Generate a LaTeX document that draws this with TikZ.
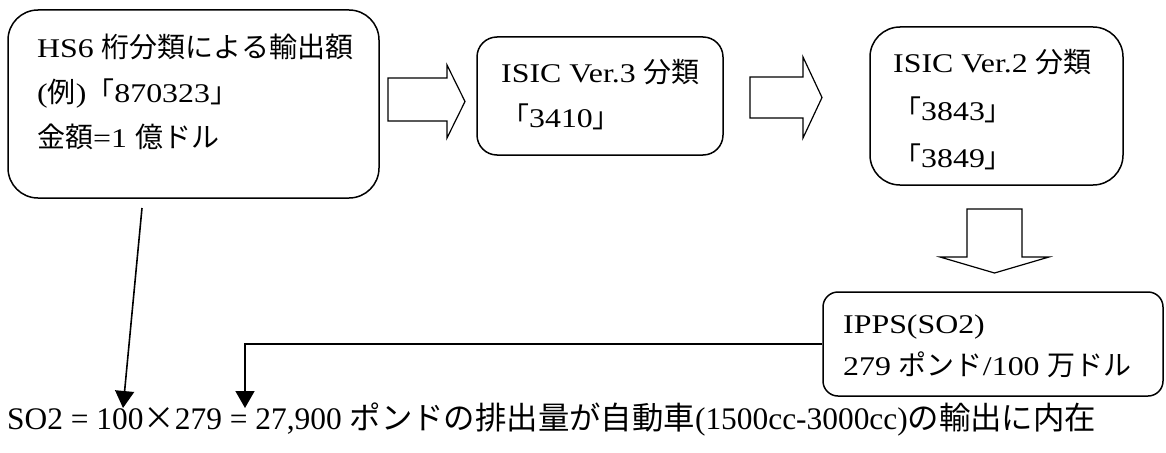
\documentclass[tikz,border=0pt]{standalone}
\usepackage{fontspec}
\setmainfont{Liberation Serif}
\newfontfamily\boxlat[FakeStretch=1.18]{Liberation Serif}
\newfontfamily\cjk{Noto Sans CJK JP}
\usetikzlibrary{arrows.meta}
\newcommand\JP[1]{{\fontsize{28}{28}\selectfont\cjk #1}}
\newcommand\JB[1]{{\cjk #1}}
\tikzset{
  box/.style={draw, line width=1.5pt, rounded corners=#1, inner sep=0pt},
  txt/.style={anchor=base west, inner sep=0pt, font=\fontsize{27}{27}\selectfont\boxlat},
  restxt/.style={anchor=base west, inner sep=0pt, font=\fontsize{31.4}{31}\selectfont},
  blockarrow/.style={draw, line width=1.2pt, line join=miter, fill=white},
  conn/.style={line width=1.6pt, -{Triangle[width=19pt,length=17pt]}}
}
\begin{document}
\begin{tikzpicture}[x=1pt,y=-1pt]
\useasboundingbox (0,0) rectangle (1166,452);
% boxes
\node[box=30pt, minimum width=371pt, minimum height=188pt] (hs) at (193.5,104) {};
\node[box=20pt, minimum width=246pt, minimum height=118pt] (isic3) at (600,96) {};
\node[box=30pt, minimum width=253pt, minimum height=158pt] (isic2) at (996.5,106) {};
\node[box=15pt, minimum width=340pt, minimum height=104pt] (ipps) at (993,344) {};
% box texts
\node[txt] (hs1) at (37,57) {HS6 \JP{桁分類による輸出額}};
\node[txt] (hs2) at (37,102) {(\JP{例})\JP{「}870323\JP{」}};
\node[txt] (hs3) at (37,147) {\JP{金額}=1 \JP{億ドル}};
\node[txt] (i31) at (501,82) {ISIC Ver.3 \JP{分類}};
\node[txt] (i32) at (501,127) {\JP{「}3410\JP{」}};
\node[txt] (i21) at (893,73) {ISIC Ver.2 \JP{分類}};
\node[txt] (i22) at (893,120) {\JP{「}3843\JP{」}};
\node[txt] (i23) at (893,167) {\JP{「}3849\JP{」}};
\node[txt] (ip1) at (843,333) {IPPS(SO2)};
\node[txt] (ip2) at (843,375) {279 \JP{ポンド}/100 \JP{万ドル}};
% result line
\node[restxt] (res) at (7,429) {SO2 = 100\JB{×}279 = 27,900 \JB{ポンドの排出量が自動車}(1500cc-3000cc)\JB{の輸出に内在}};
% block arrows
\draw[blockarrow] (388,78) -- (447,78) -- (447,65) -- (465,101.5) -- (447,138) -- (447,121) -- (388,121) -- cycle;
\draw[blockarrow] (750,77) -- (803,77) -- (803,57) -- (822,97.5) -- (803,138) -- (803,118) -- (750,118) -- cycle;
\draw[blockarrow] (967,209) -- (1022,209) -- (1022,257) -- (1049,257) -- (994.5,273) -- (940,257) -- (967,257) -- cycle;
% connectors
\coordinate (d1) at (142,208);
\coordinate (d2) at (123,408);
\coordinate (e2) at (245,408);
\draw[conn] (d1) -- (d2);
\draw[conn] (ipps.west) -| (e2);
\end{tikzpicture}
\end{document}
